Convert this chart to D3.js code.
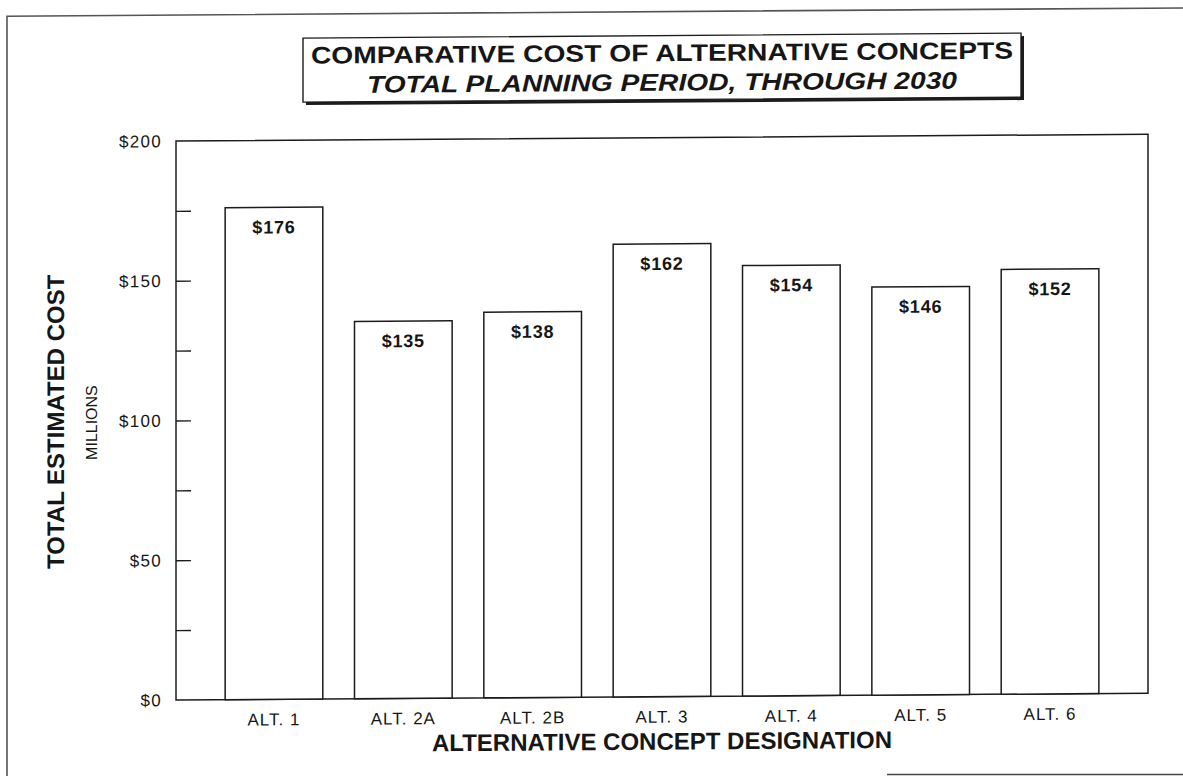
<!DOCTYPE html>
<html>
<head>
<meta charset="utf-8">
<script src="https://cdn.jsdelivr.net/npm/d3@7"></script>
<style>
  html, body { margin: 0; padding: 0; background: #fff; }
  svg { display: block; }
  text { font-family: "Liberation Sans", Arial, Helvetica, sans-serif; fill: #161616; }
</style>
</head>
<body>
<svg id="chart" width="1183" height="776"></svg>
<script>
// Alternatives and their total estimated cost (millions of dollars)
const categories = ["ALT. 1", "ALT. 2A", "ALT. 2B", "ALT. 3", "ALT. 4", "ALT. 5", "ALT. 6"];
const costs = [176, 135, 138, 162, 154, 146, 152];

// Axis ticks
const labeledTicks = [0, 50, 100, 150, 200];
const minorTicks = [25, 75, 125, 175];

const titleLine1 = "COMPARATIVE COST OF ALTERNATIVE CONCEPTS";
const titleLine2 = "TOTAL PLANNING PERIOD, THROUGH 2030";
const yTitle = "TOTAL ESTIMATED COST";
const yUnits = "MILLIONS";
const xTitle = "ALTERNATIVE CONCEPT DESIGNATION";

const W = 1183, H = 776;
const plot = { left: 176, right: 1148, top: 141, bottom: 700 };
const ink = "#1c1c1c";

const svg = d3.select("#chart");
svg.append("rect").attr("width", W).attr("height", H).attr("fill", "#fff");

// The printed page sits very slightly askew
const skewDeg = -0.4;
const k = Math.tan(skewDeg * Math.PI / 180);
const g = svg.append("g")
  .attr("transform", `translate(0,${-k * plot.left}) skewY(${skewDeg})`);

// Page border (left and top edges)
g.append("path")
  .attr("d", `M7,${H + 10} L7,15 L${W + 5},15`)
  .attr("fill", "none").attr("stroke", "#555").attr("stroke-width", 1.6);
svg.append("line")
  .attr("x1", 887).attr("x2", W).attr("y1", 774.5).attr("y2", 774.5)
  .attr("stroke", "#444").attr("stroke-width", 1.6);

// Scales
const x = d3.scaleBand()
  .domain(categories)
  .range([plot.left, plot.right])
  .paddingInner(0.245)
  .paddingOuter(0.38);

const y = d3.scaleLinear()
  .domain([0, 200])
  .range([plot.bottom, plot.top]);

// Title box with drop shadow
const box = { x: 303, y: 39, w: 718, h: 64 };
g.append("rect")
  .attr("x", box.x + 3).attr("y", box.y + 3).attr("width", box.w).attr("height", box.h)
  .attr("fill", ink);
g.append("rect")
  .attr("x", box.x).attr("y", box.y).attr("width", box.w).attr("height", box.h)
  .attr("fill", "#fff").attr("stroke", ink).attr("stroke-width", 1.4);
g.append("text")
  .attr("x", 311).attr("y", 64.5)
  .attr("font-size", 24).attr("font-weight", "bold")
  .attr("textLength", 702).attr("lengthAdjust", "spacingAndGlyphs")
  .text(titleLine1);
g.append("text")
  .attr("x", 367).attr("y", 94)
  .attr("font-size", 24).attr("font-weight", "bold").attr("font-style", "italic")
  .attr("textLength", 590).attr("lengthAdjust", "spacingAndGlyphs")
  .text(titleLine2);

// Plot frame
g.append("rect")
  .attr("x", plot.left).attr("y", plot.top)
  .attr("width", plot.right - plot.left).attr("height", plot.bottom - plot.top)
  .attr("fill", "none").attr("stroke", ink).attr("stroke-width", 1.5);

// Inward tick marks on the value axis
const yAxis = d3.axisRight(y)
  .tickValues(minorTicks.concat(labeledTicks.filter(v => v > 0 && v < 200)))
  .tickSize(15)
  .tickFormat("");
const yAxisG = g.append("g")
  .attr("transform", `translate(${plot.left},0)`)
  .call(yAxis);
yAxisG.select(".domain").remove();
yAxisG.selectAll(".tick line").attr("stroke", ink).attr("stroke-width", 1.3);

// Value axis labels
g.append("g").selectAll("text")
  .data(labeledTicks)
  .join("text")
  .attr("x", plot.left - 14)
  .attr("y", d => y(d))
  .attr("dy", "0.36em")
  .attr("text-anchor", "end")
  .attr("font-size", 17)
  .attr("letter-spacing", 1.3)
  .text(d => "$" + d);

// Bars
g.append("g").selectAll("rect")
  .data(costs)
  .join("rect")
  .attr("x", (d, i) => x(categories[i]))
  .attr("y", d => y(d))
  .attr("width", x.bandwidth())
  .attr("height", d => y(0) - y(d))
  .attr("fill", "#fff")
  .attr("stroke", ink)
  .attr("stroke-width", 1.5);

// Value labels inside each bar
g.append("g").selectAll("text")
  .data(costs)
  .join("text")
  .attr("x", (d, i) => x(categories[i]) + x.bandwidth() / 2)
  .attr("y", d => y(d) + 26)
  .attr("text-anchor", "middle")
  .attr("font-size", 18)
  .attr("font-weight", "bold")
  .attr("letter-spacing", 0.8)
  .text(d => "$" + d);

// Category labels
const xAxis = d3.axisBottom(x).tickSize(0).tickPadding(0);
const xAxisG = g.append("g")
  .attr("transform", `translate(0,${plot.bottom})`)
  .call(xAxis);
xAxisG.select(".domain").remove();
xAxisG.selectAll(".tick text")
  .attr("y", 26)
  .attr("dy", 0)
  .attr("font-size", 17)
  .attr("font-family", "'Liberation Sans', Arial, Helvetica, sans-serif")
  .attr("letter-spacing", 1)
  .attr("fill", "#161616");

// Axis titles
g.append("text")
  .attr("x", 662).attr("y", 753)
  .attr("text-anchor", "middle")
  .attr("font-size", 24).attr("font-weight", "bold")
  .text(xTitle);

g.append("text")
  .attr("transform", "translate(63.5,421) rotate(-90)")
  .attr("text-anchor", "middle")
  .attr("font-size", 24).attr("font-weight", "bold")
  .text(yTitle);

g.append("text")
  .attr("transform", "translate(97,422) rotate(-90)")
  .attr("text-anchor", "middle")
  .attr("font-size", 16)
  .text(yUnits);
</script>
</body>
</html>
